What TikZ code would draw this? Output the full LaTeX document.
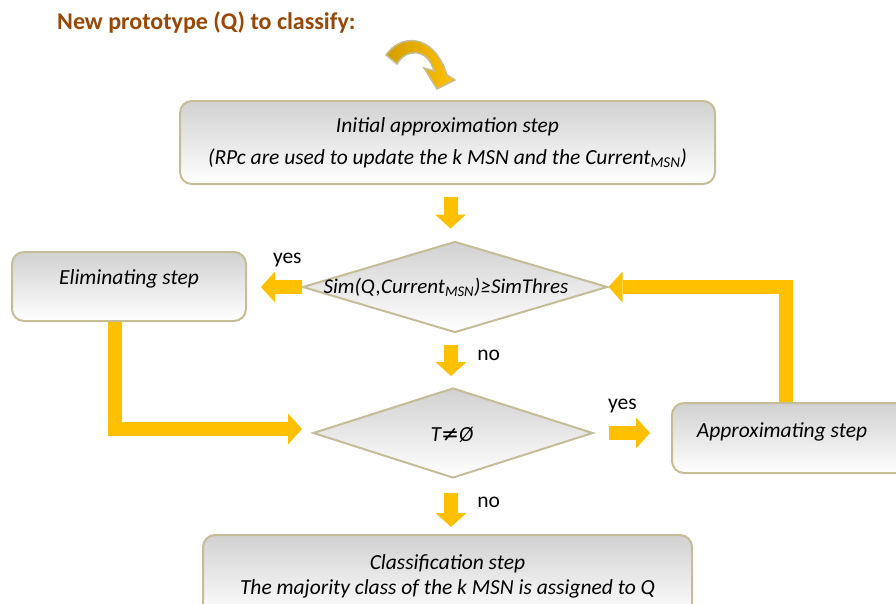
\documentclass[tikz,border=0pt]{standalone}
\usepackage{fontspec}
\setmainfont{Carlito}
\newfontfamily\symbfont{DejaVu Sans}
\usetikzlibrary{shapes.geometric,arrows.meta}

\definecolor{flowyellow}{HTML}{FFC000}
\definecolor{boxtan}{HTML}{C4BD97}
\definecolor{titlebrown}{HTML}{984806}
\definecolor{curvegold}{HTML}{D29F00}

\begin{document}
\begin{tikzpicture}[x=1pt,y=-1pt,
    every node/.style={font=\fontsize{21.5}{26}\selectfont},
    stepbox/.style={draw=boxtan,line width=2pt,rounded corners=12pt,top color=black!18,bottom color=white,inner sep=0pt,font=\fontsize{21.5}{26}\selectfont\itshape},
    testbox/.style={diamond,draw=boxtan,line width=2pt,top color=black!18,bottom color=white,inner sep=0pt},
    flow/.style={draw=flowyellow,line width=14pt,-{Triangle[width=31pt,length=14pt,line width=0pt,fill=flowyellow]}},
    tag/.style={font=\fontsize{21.5}{26}\selectfont}]
        \useasboundingbox(0,0)rectangle(896,603);
        \clip(0,0)rectangle(896,603);

        \node[anchor=west,inner sep=0pt,text=titlebrown,font=\fontsize{24}{28}\selectfont\bfseries](title)at(57,22){New prototype (Q) to classify:};
        \path[draw=boxtan,line width=1.5pt,left color=curvegold,right color=flowyellow](386,55)..controls(399,35)and(433,31)..(447,75)--(455,80)--(437,89)--(424,68)--(434,71)..controls(428,48)and(406,48)..(397,64)--cycle;

        \node[stepbox,minimum width=535pt,minimum height=83pt,align=center,font=\fontsize{21.5}{32}\selectfont\itshape](init)at(447.5,142.5){Initial approximation step\\(RPc are used to update the k MSN and the Current\textsubscript{MSN})};
        \node[testbox,minimum width=305pt,minimum height=91pt](simtest)at(455,287){};
        \node[font=\fontsize{21}{26}\selectfont\itshape](simtext)at(446,287){Sim(Q,Current\textsubscript{MSN})≥SimThres};
        \node[stepbox,minimum width=234pt,minimum height=69pt,text depth=18pt](elim)at(129,286.5){Eliminating step};
        \node[testbox,minimum width=280pt,minimum height=90pt](settest)at(453,433){};
        \node[font=\fontsize{21.5}{26}\selectfont\itshape](settext)at(452,435){T{\symbfont\itshape ≠}Ø};
        \node[stepbox,minimum width=250pt,minimum height=70pt,text depth=15pt](approx)at(797,438){Approximating step\hspace*{30pt}};
        \node[stepbox,minimum width=489pt,minimum height=83pt,align=center,font=\fontsize{21.5}{25}\selectfont\itshape](classify)at(447.5,576.5){Classification step\\The majority class of the k MSN is assigned to Q};

        \draw[flow,shorten <=12pt,shorten >=12pt]([xshift=3pt]init.south)--([xshift=3pt]init.south|-simtest.north);
        \draw[flow,shorten >=14pt](simtest.west)--(simtest.west-|elim.east)node[tag,pos=0.26,above=10pt]{yes};
        \draw[flow,shorten <=11pt,shorten >=11pt]([xshift=-4pt]simtest.south)--([xshift=-4pt]simtest.south|-settest.north)node[tag,pos=0.4,right=16pt]{no};
        \draw[flow,shorten >=10pt]([xshift=-14pt]elim.south)|-([yshift=4pt]settest.west);
        \draw[flow,shorten <=15pt,shorten >=21pt](settest.east)--(settest.east-|approx.west)node[tag,pos=0.37,above=10pt]{yes};
        \draw[flow]([xshift=-11pt]approx.north)|-(simtest.east);
        \draw[flow,shorten <=14pt,shorten >=7pt]([xshift=-2pt]settest.south)--([xshift=-2pt]settest.south|-classify.north)node[tag,pos=0.42,right=16pt]{no};
    \end{tikzpicture}
\end{document}
